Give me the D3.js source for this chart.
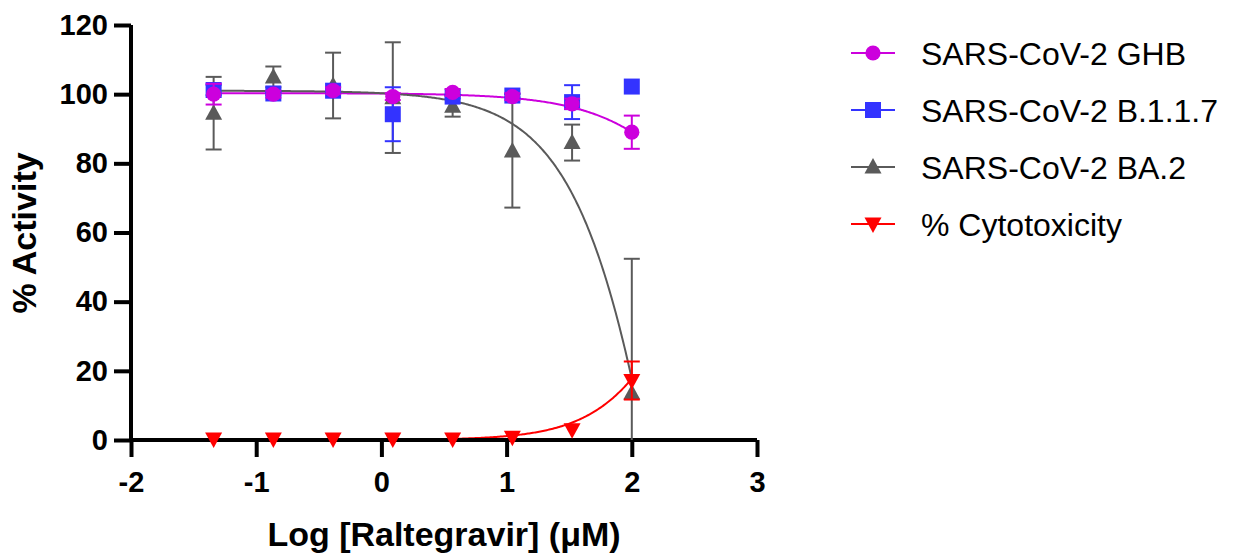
<!DOCTYPE html>
<html>
<head>
<meta charset="utf-8">
<script src="https://cdn.jsdelivr.net/npm/d3@7"></script>
<style>
  html, body { margin: 0; padding: 0; background: #fff; }
  svg { display: block; font-family: "Liberation Sans", Arial, Helvetica, sans-serif; }
</style>
</head>
<body>
<svg id="chart" width="1236" height="554"></svg>
<script>
// ---- data ----
const logConc = [-1.34, -0.863, -0.386, 0.091, 0.569, 1.046, 1.523, 2.0];
const seriesNames = ["SARS-CoV-2 GHB", "SARS-CoV-2 B.1.1.7", "SARS-CoV-2 BA.2", "% Cytotoxicity"];
const ghbMean = [100, 100, 101, 99.3, 100.5, 99.3, 97.2, 89];
const ghbSD = [3, 1, 1, 1, 1, 1, 1.5, 4.8];
const b117Mean = [101.2, 100.2, 101, 94.2, 99.3, 99.6, 97.7, 102.2];
const b117SD = [1.5, 0.5, 1, 7.8, 0.5, 0.5, 4.9, 0];
const ba2Mean = [94.5, 105, 102.5, 99, 96.5, 83.6, 86, 13.6];
const ba2SD = [10.5, 3, 9.5, 16, 3, 16.4, 5.2, 38.8];
const cytoMean = [0.3, 0.3, 0.3, 0.3, 0.3, 0.8, 3, 17.2];
const cytoSD = [0, 0, 0, 0, 0, 0, 0, 5.5];
// fitted 4-parameter logistic curves: [bottom, top, logIC50, hill]
const ghbFit = [0, 100.3, 2.906, -0.99];
const ba2Fit = [-300, 101, 2.538, -1.08];
const cytoFit = [0, 100, 2.523, 1.275];
const xTicks = [-2, -1, 0, 1, 2, 3];
const yTicks = [0, 20, 40, 60, 80, 100, 120];

// ---- layout ----
const svg = d3.select("#chart");
const x = d3.scaleLinear().domain([-2, 3]).range([131, 757]);
const y = d3.scaleLinear().domain([0, 120]).range([440, 25]);

const colors = { ghb: "#cc00dd", b117: "#3333ff", ba2: "#5a5a5a", cyto: "#ff0000" };

function fourPL(p, xv) {
  const [bottom, top, c, h] = p;
  return bottom + (top - bottom) / (1 + Math.pow(10, (c - xv) * h));
}
function curvePoints(p) {
  const xs = d3.range(logConc[0], logConc[logConc.length - 1] + 1e-9, 0.01);
  return xs.map(v => [v, fourPL(p, v)]);
}
const line = d3.line().x(d => x(d[0])).y(d => y(d[1])).curve(d3.curveLinear);

// curves
const curves = svg.append("g");
[[ghbFit, colors.ghb], [ba2Fit, colors.ba2], [cytoFit, colors.cyto]].forEach(([p, c]) => {
  curves.append("path").attr("d", line(curvePoints(p)))
    .attr("fill", "none").attr("stroke", c).attr("stroke-width", 2);
});

// axes
const yAxis = svg.append("g").attr("transform", `translate(${x(-2)},0)`)
  .call(d3.axisLeft(y).tickValues(yTicks).tickSize(17).tickSizeOuter(0).tickPadding(6));
const xAxis = svg.append("g").attr("transform", `translate(0,${y(0)})`)
  .call(d3.axisBottom(x).tickValues(xTicks).tickSize(17).tickSizeOuter(0).tickPadding(14)
    .tickFormat(d => String(d)));
[yAxis, xAxis].forEach(a => {
  a.select(".domain").attr("stroke", "#000").attr("stroke-width", 4);
  a.selectAll(".tick line").attr("stroke", "#000").attr("stroke-width", 4);
  a.selectAll(".tick text").attr("fill", "#000").attr("font-size", 29).attr("font-weight", "bold")
    .attr("font-family", "Liberation Sans, Arial, sans-serif");
});
yAxis.select(".domain").attr("d", `M0,${y(120)}V${y(0) + 2}`);
xAxis.select(".domain").attr("d", `M${x(-2) - 2},0H${x(3)}`);

// error bars + markers
function symbolPath(kind, s) {
  if (kind === "circle") return d3.symbol(d3.symbolCircle, Math.PI * 7.6 * 7.6)();
  if (kind === "square") return `M${-s/2},${-s/2}H${s/2}V${s/2}H${-s/2}Z`;
  if (kind === "up") return `M0,-9L8.5,6.5L-8.5,6.5Z`;
  if (kind === "down") return `M0,9L8.5,-6.5L-8.5,-6.5Z`;
}
function drawSeries(means, sds, color, kind) {
  const g = svg.append("g");
  means.forEach((m, i) => {
    const xv = x(logConc[i]);
    const sd = sds[i];
    if (sd > 0) {
      const lo = Math.max(0, m - sd), hi = m + sd;
      g.append("line").attr("x1", xv).attr("x2", xv).attr("y1", y(lo)).attr("y2", y(hi))
        .attr("stroke", color).attr("stroke-width", 2);
      g.append("line").attr("x1", xv - 8).attr("x2", xv + 8).attr("y1", y(hi)).attr("y2", y(hi))
        .attr("stroke", color).attr("stroke-width", 2);
      if (m - sd >= 0) {
        g.append("line").attr("x1", xv - 8).attr("x2", xv + 8).attr("y1", y(lo)).attr("y2", y(lo))
          .attr("stroke", color).attr("stroke-width", 2);
      }
    }
  });
  means.forEach((m, i) => {
    g.append("path").attr("d", symbolPath(kind, 16))
      .attr("transform", `translate(${x(logConc[i])},${y(m)})`).attr("fill", color);
  });
}
drawSeries(ba2Mean, ba2SD, colors.ba2, "up");
drawSeries(b117Mean, b117SD, colors.b117, "square");
drawSeries(cytoMean, cytoSD, colors.cyto, "down");
drawSeries(ghbMean, ghbSD, colors.ghb, "circle");

// axis titles
svg.append("text").attr("x", 444).attr("y", 546).attr("text-anchor", "middle")
  .attr("font-size", 34).attr("font-weight", "bold").text("Log [Raltegravir] (μM)");
svg.append("text").attr("transform", "translate(36,233) rotate(-90)").attr("text-anchor", "middle")
  .attr("font-size", 34).attr("font-weight", "bold").text("% Activity");

// legend
const legendKinds = ["circle", "square", "up", "down"];
const legendColors = [colors.ghb, colors.b117, colors.ba2, colors.cyto];
const legendRows = [53, 110, 167, 224];
const lg = svg.append("g");
seriesNames.forEach((name, i) => {
  const ry = legendRows[i];
  lg.append("line").attr("x1", 851).attr("x2", 895).attr("y1", ry).attr("y2", ry)
    .attr("stroke", legendColors[i]).attr("stroke-width", 2);
  lg.append("path").attr("d", symbolPath(legendKinds[i], 16))
    .attr("transform", `translate(873,${ry})`).attr("fill", legendColors[i]);
  lg.append("text").attr("x", 921).attr("y", ry + 11.5).attr("font-size", 32).text(name);
});
</script>
</body>
</html>
